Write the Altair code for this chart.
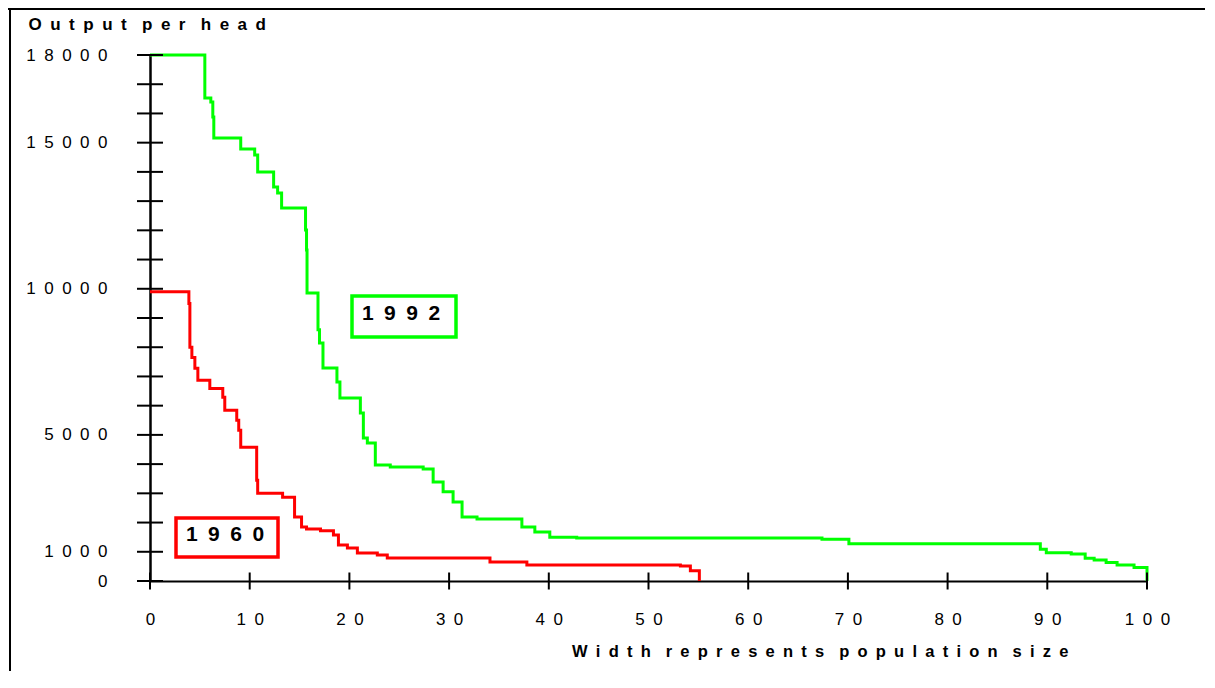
import altair as alt
import pandas as pd

FONT = "Liberation Sans"
EN = "\u2002"
TH = "\u2009"


def spaced(text):
    return (EN + TH + TH).join(EN.join(w) for w in text.split(" "))


# ---- data ----
x_1992 = [0, 5.5, 6.1, 6.3, 6.4, 9.1, 10.5, 10.8, 12.4, 12.8, 13.2, 15.6, 15.7, 15.75, 16.85,
          17.0, 17.35, 18.75, 19.05, 21.1, 21.4, 21.8, 22.6, 24.1, 27.4, 28.4, 29.4, 30.4, 31.3,
          32.8, 37.3, 38.6, 40.1, 42.8, 67.4, 70.1, 89.3, 89.9, 92.4, 93.8, 94.7, 95.9, 97.0,
          98.7, 100]
y_1992 = [18000, 16530, 16390, 15880, 15160, 14785, 14580, 14000, 13480, 13280, 12765, 12010,
          11330, 9855, 8600, 8145, 7290, 6810, 6260, 5750, 4890, 4720, 3970, 3900, 3830, 3390,
          3050, 2700, 2190, 2120, 1850, 1680, 1500, 1470, 1430, 1275, 1085, 970, 925, 775, 720,
          630, 550, 460, 0]

x_1960 = [0, 3.9, 4.0, 4.2, 4.5, 4.8, 6.0, 7.3, 7.5, 8.7, 8.9, 9.1, 10.7, 10.8, 13.3, 14.5,
          15.2, 15.7, 17.1, 18.4, 18.9, 19.8, 20.8, 22.8, 23.8, 34.1, 37.8, 53.2, 54.2, 55.1]
y_1960 = [9900, 9500, 8000, 7650, 7280, 6870, 6590, 6290, 5840, 5500, 5160, 4580, 3450, 3000,
          2870, 2190, 1850, 1780, 1720, 1570, 1230, 1130, 960, 890, 790, 650, 550, 510, 350, 0]

series_names = ["1960", "1992"]
series_colors = ["#ff0000", "#00ff00"]

x_tick_values = [0, 10, 20, 30, 40, 50, 60, 70, 80, 90, 100]
y_label_values = [0, 1000, 5000, 10000, 15000, 18000]
y_tick_values = list(range(0, 18001, 1000))

x_title = "Width represents population size"
y_title = "Output per head"

# ---- build table ----
df = pd.concat([
    pd.DataFrame({"x": x_1960, "y": y_1960, "series": "1960"}),
    pd.DataFrame({"x": x_1992, "y": y_1992, "series": "1992"}),
])

W, H = 997, 526
PAD = {"left": 142, "top": 47, "right": 58, "bottom": 90}
x_scale = alt.Scale(domain=[0, 100], nice=False, zero=False)
y_scale = alt.Scale(domain=[0, 18000], nice=False)
label_expr = "join(split(datum.label, ''), '\u2002')"

x_axis = alt.Axis(
    values=x_tick_values, format="d", labelExpr=label_expr, ticks=False, tickSize=0,
    labelPadding=38, labelBaseline="middle", labelFlush=False, labelOverlap=False,
    labelFont=FONT, labelFontSize=17, labelColor="black",
    domainColor="black", domainWidth=2, grid=False,
    title=spaced(x_title), titleFont=FONT, titleFontSize=16.5, titleFontWeight="bold",
    titleColor="black", titleX=918, titleY=70, titleAlign="right", titleBaseline="middle",
)
y_axis = alt.Axis(
    values=y_label_values, format="d", labelExpr=label_expr, ticks=False, tickSize=0,
    labelPadding=43, labelAlign="right", labelBaseline="middle", labelOverlap=False,
    labelFlush=False, labelFont=FONT, labelFontSize=17, labelColor="black",
    domainColor="black", domainWidth=2.5, grid=False,
    title=spaced(y_title), titleFont=FONT, titleFontSize=17, titleFontWeight="bold",
    titleColor="black", titleAngle=0, titleX=-122, titleY=-31, titleAlign="left",
    titleBaseline="middle",
)

one = pd.DataFrame({"k": [0]})

# outer frame: only its left and top edges fall inside the picture (thin filled bars)
frame_top = alt.Chart(one).mark_rect(color="black").encode(
    x=alt.value(-PAD["left"]), x2=alt.value(W + PAD["right"]),
    y=alt.value(-PAD["top"]), y2=alt.value(-PAD["top"] + 2),
)
frame_left = alt.Chart(one).mark_rect(color="black").encode(
    x=alt.value(-PAD["left"] + 1), x2=alt.value(-PAD["left"] + 3),
    y=alt.value(-PAD["top"]), y2=alt.value(H + PAD["bottom"]),
)


def label_box(text, color, x0, x1, y0, y1, tx, ty):
    box = alt.Chart(one).mark_rect(fill="white", stroke=color, strokeWidth=3.5).encode(
        x=alt.value(x0), x2=alt.value(x1), y=alt.value(y0), y2=alt.value(y1)
    )
    txt = alt.Chart(one).mark_text(
        font=FONT, fontSize=21, fontWeight="bold", color="black", align="center", baseline="middle"
    ).encode(x=alt.value(tx), y=alt.value(ty), text=alt.value(EN.join(text)))
    return box + txt


box_1992 = label_box("1992", "#00ff00", 202, 306, 241, 282, 251, 259)
box_1960 = label_box("1960", "#ff0000", 26, 128, 463, 502, 75, 480)

lines = alt.Chart(df).mark_line(interpolate="step-after", strokeWidth=3).encode(
    x=alt.X("x:Q", scale=x_scale, axis=x_axis),
    y=alt.Y("y:Q", scale=y_scale, axis=y_axis),
    color=alt.Color("series:N", scale=alt.Scale(domain=series_names, range=series_colors), legend=None),
)

xticks = alt.Chart(pd.DataFrame({"x": x_tick_values})).mark_tick(
    orient="vertical", color="black", thickness=2, size=17, opacity=1
).encode(x=alt.X("x:Q", scale=x_scale, axis=x_axis), y=alt.value(H))

yticks = alt.Chart(pd.DataFrame({"y": y_tick_values})).mark_tick(
    orient="horizontal", color="black", thickness=2, size=26, opacity=1
).encode(y=alt.Y("y:Q", scale=y_scale, axis=y_axis), x=alt.value(0))

chart = alt.layer(lines, frame_top, frame_left, box_1992, box_1960, xticks, yticks).properties(
    width=W, height=H,
    autosize=alt.AutoSizeParams(type="none"),
    padding=PAD,
    background="white",
).configure_view(stroke=None)

chart.save("out.html", embed_options={"renderer": "svg", "actions": False})
